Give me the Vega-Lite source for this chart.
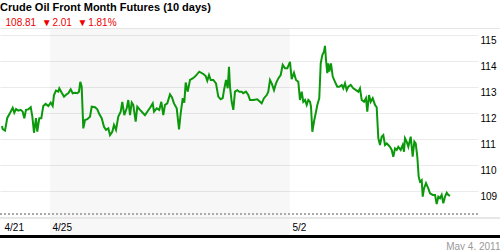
{
  "$schema": "https://vega.github.io/schema/vega-lite/v6.json",
  "width": 478,
  "height": 208,
  "autosize": {"type": "none"},
  "padding": {"left": 0, "top": 28, "right": 22, "bottom": 14},
  "background": "white",
  "config": {
    "font": "Liberation Sans",
    "view": {"stroke": null},
    "axisY": {
      "grid": true,
      "gridColor": "#ebebeb",
      "domain": false,
      "ticks": false,
      "labelPadding": 2,
      "labelFontSize": 10,
      "labelColor": "#000000",
      "labelBaseline": "top",
      "labelOffset": 1,
      "labelAlign": "left",
      "labelOverlap": false,
      "labelFlush": false
    }
  },
  "title": {
    "text": "Crude Oil Front Month Futures (10 days)",
    "subtitle": "\u200b\u00a0\u00a0108.81\u00a0\u00a0▼\u200a2.01\u00a0\u00a0▼\u200a1.81%",
    "anchor": "start",
    "frame": "group",
    "fontSize": 11,
    "fontWeight": "bold",
    "color": "#000000",
    "subtitleColor": "#ee0000",
    "subtitleFontSize": 10,
    "subtitlePadding": 5,
    "offset": 0
  },
  "data": {
    "values": [
      {"t": 0.0, "price": 111.5},
      {"t": 0.015, "price": 111.38},
      {"t": 0.063, "price": 111.32},
      {"t": 0.11, "price": 111.81},
      {"t": 0.167, "price": 112.0},
      {"t": 0.223, "price": 112.2},
      {"t": 0.256, "price": 112.01},
      {"t": 0.292, "price": 112.15},
      {"t": 0.34, "price": 112.09},
      {"t": 0.39, "price": 112.12},
      {"t": 0.431, "price": 112.05},
      {"t": 0.465, "price": 111.8},
      {"t": 0.5, "price": 112.12},
      {"t": 0.548, "price": 112.14},
      {"t": 0.598, "price": 112.22},
      {"t": 0.631, "price": 111.88},
      {"t": 0.667, "price": 111.24},
      {"t": 0.708, "price": 111.8},
      {"t": 0.735, "price": 111.28},
      {"t": 0.777, "price": 111.8},
      {"t": 0.819, "price": 111.8},
      {"t": 0.86, "price": 112.27},
      {"t": 0.91, "price": 112.35},
      {"t": 0.965, "price": 112.27},
      {"t": 1.015, "price": 112.4},
      {"t": 1.056, "price": 112.27},
      {"t": 1.083, "price": 112.69},
      {"t": 1.125, "price": 112.86},
      {"t": 1.173, "price": 112.82},
      {"t": 1.194, "price": 112.95},
      {"t": 1.244, "price": 112.78},
      {"t": 1.292, "price": 112.63},
      {"t": 1.348, "price": 112.72},
      {"t": 1.381, "price": 112.76},
      {"t": 1.431, "price": 112.91},
      {"t": 1.473, "price": 112.76},
      {"t": 1.521, "price": 112.78},
      {"t": 1.569, "price": 112.76},
      {"t": 1.604, "price": 112.82},
      {"t": 1.631, "price": 113.2},
      {"t": 1.66, "price": 113.01},
      {"t": 1.694, "price": 111.41},
      {"t": 1.729, "price": 111.73},
      {"t": 1.777, "price": 111.76},
      {"t": 1.833, "price": 111.86},
      {"t": 1.869, "price": 112.24},
      {"t": 1.938, "price": 112.22},
      {"t": 1.985, "price": 112.14},
      {"t": 2.027, "price": 111.96},
      {"t": 2.077, "price": 111.8},
      {"t": 2.125, "price": 111.47},
      {"t": 2.167, "price": 111.35},
      {"t": 2.215, "price": 111.41},
      {"t": 2.25, "price": 111.15},
      {"t": 2.298, "price": 111.28},
      {"t": 2.333, "price": 111.54},
      {"t": 2.375, "price": 111.35},
      {"t": 2.423, "price": 111.86},
      {"t": 2.473, "price": 112.05},
      {"t": 2.506, "price": 112.43},
      {"t": 2.548, "price": 111.92},
      {"t": 2.598, "price": 112.18},
      {"t": 2.631, "price": 112.5},
      {"t": 2.667, "price": 111.92},
      {"t": 2.702, "price": 112.4},
      {"t": 2.735, "price": 112.31},
      {"t": 2.785, "price": 111.67},
      {"t": 2.819, "price": 112.24},
      {"t": 2.875, "price": 112.12},
      {"t": 2.931, "price": 112.01},
      {"t": 2.979, "price": 111.92},
      {"t": 3.027, "price": 112.05},
      {"t": 3.098, "price": 112.24},
      {"t": 3.14, "price": 112.37},
      {"t": 3.167, "price": 112.05},
      {"t": 3.223, "price": 112.18},
      {"t": 3.277, "price": 112.12},
      {"t": 3.319, "price": 112.43},
      {"t": 3.36, "price": 111.92},
      {"t": 3.396, "price": 112.31},
      {"t": 3.444, "price": 112.37},
      {"t": 3.5, "price": 112.72},
      {"t": 3.542, "price": 112.6},
      {"t": 3.583, "price": 112.37},
      {"t": 3.64, "price": 112.18},
      {"t": 3.688, "price": 111.37},
      {"t": 3.723, "price": 111.99},
      {"t": 3.765, "price": 112.57},
      {"t": 3.798, "price": 112.4},
      {"t": 3.827, "price": 113.17},
      {"t": 3.869, "price": 112.82},
      {"t": 3.917, "price": 113.27},
      {"t": 3.973, "price": 113.33},
      {"t": 4.021, "price": 113.4},
      {"t": 4.11, "price": 113.59},
      {"t": 4.194, "price": 113.5},
      {"t": 4.244, "price": 113.42},
      {"t": 4.277, "price": 113.24},
      {"t": 4.313, "price": 113.46},
      {"t": 4.348, "price": 113.27},
      {"t": 4.402, "price": 113.27},
      {"t": 4.458, "price": 113.14},
      {"t": 4.506, "price": 112.63},
      {"t": 4.556, "price": 112.53},
      {"t": 4.598, "price": 112.57},
      {"t": 4.625, "price": 112.88},
      {"t": 4.667, "price": 113.27},
      {"t": 4.702, "price": 112.95},
      {"t": 4.729, "price": 113.78},
      {"t": 4.75, "price": 113.01},
      {"t": 4.785, "price": 112.43},
      {"t": 4.819, "price": 112.12},
      {"t": 4.854, "price": 112.82},
      {"t": 4.902, "price": 112.88},
      {"t": 4.944, "price": 112.82},
      {"t": 4.994, "price": 112.82},
      {"t": 5.027, "price": 112.76},
      {"t": 5.083, "price": 112.82},
      {"t": 5.131, "price": 112.69},
      {"t": 5.167, "price": 112.5},
      {"t": 5.235, "price": 112.5},
      {"t": 5.319, "price": 112.53},
      {"t": 5.375, "price": 112.43},
      {"t": 5.41, "price": 112.37},
      {"t": 5.458, "price": 112.57},
      {"t": 5.515, "price": 112.69},
      {"t": 5.548, "price": 112.82},
      {"t": 5.583, "price": 113.27},
      {"t": 5.619, "price": 113.14},
      {"t": 5.667, "price": 112.88},
      {"t": 5.708, "price": 113.14},
      {"t": 5.756, "price": 113.33},
      {"t": 5.806, "price": 113.46},
      {"t": 5.848, "price": 113.85},
      {"t": 5.896, "price": 113.72},
      {"t": 5.944, "price": 113.72},
      {"t": 6.0, "price": 113.97},
      {"t": 6.035, "price": 113.3},
      {"t": 6.083, "price": 113.55},
      {"t": 6.125, "price": 113.27},
      {"t": 6.173, "price": 113.2},
      {"t": 6.208, "price": 112.5},
      {"t": 6.244, "price": 112.82},
      {"t": 6.277, "price": 112.43},
      {"t": 6.313, "price": 112.5},
      {"t": 6.348, "price": 112.31},
      {"t": 6.381, "price": 112.5},
      {"t": 6.417, "price": 112.43},
      {"t": 6.438, "price": 112.24},
      {"t": 6.465, "price": 111.28},
      {"t": 6.506, "price": 111.73},
      {"t": 6.542, "price": 112.05},
      {"t": 6.569, "price": 112.31},
      {"t": 6.61, "price": 112.57},
      {"t": 6.64, "price": 113.91},
      {"t": 6.673, "price": 114.23},
      {"t": 6.708, "price": 114.36},
      {"t": 6.729, "price": 114.58},
      {"t": 6.75, "price": 114.04},
      {"t": 6.777, "price": 113.53},
      {"t": 6.798, "price": 113.91},
      {"t": 6.819, "price": 113.59},
      {"t": 6.854, "price": 113.91},
      {"t": 6.89, "price": 113.4},
      {"t": 6.938, "price": 113.2},
      {"t": 6.985, "price": 113.01},
      {"t": 7.027, "price": 113.01},
      {"t": 7.077, "price": 113.08},
      {"t": 7.11, "price": 112.95},
      {"t": 7.146, "price": 113.14},
      {"t": 7.181, "price": 112.88},
      {"t": 7.215, "price": 113.01},
      {"t": 7.265, "price": 113.08},
      {"t": 7.319, "price": 112.95},
      {"t": 7.375, "price": 112.88},
      {"t": 7.423, "price": 112.82},
      {"t": 7.458, "price": 112.95},
      {"t": 7.494, "price": 112.5},
      {"t": 7.542, "price": 112.43},
      {"t": 7.583, "price": 112.57},
      {"t": 7.61, "price": 112.05},
      {"t": 7.646, "price": 112.69},
      {"t": 7.681, "price": 112.43},
      {"t": 7.723, "price": 112.57},
      {"t": 7.771, "price": 112.31},
      {"t": 7.806, "price": 112.22},
      {"t": 7.84, "price": 111.03},
      {"t": 7.875, "price": 110.77},
      {"t": 7.91, "price": 111.09},
      {"t": 7.944, "price": 111.15},
      {"t": 7.979, "price": 110.77},
      {"t": 8.015, "price": 110.83},
      {"t": 8.048, "price": 110.77},
      {"t": 8.083, "price": 110.7},
      {"t": 8.119, "price": 110.58},
      {"t": 8.152, "price": 110.32},
      {"t": 8.188, "price": 110.64},
      {"t": 8.223, "price": 110.58},
      {"t": 8.256, "price": 110.7},
      {"t": 8.306, "price": 110.58},
      {"t": 8.348, "price": 110.77},
      {"t": 8.375, "price": 110.51},
      {"t": 8.396, "price": 111.03},
      {"t": 8.431, "price": 110.9},
      {"t": 8.465, "price": 110.7},
      {"t": 8.515, "price": 111.09},
      {"t": 8.556, "price": 110.32},
      {"t": 8.59, "price": 110.9},
      {"t": 8.619, "price": 110.83},
      {"t": 8.652, "price": 110.32},
      {"t": 8.681, "price": 109.55},
      {"t": 8.708, "price": 109.36},
      {"t": 8.744, "price": 109.42},
      {"t": 8.765, "price": 108.78},
      {"t": 8.792, "price": 109.1},
      {"t": 8.833, "price": 109.3},
      {"t": 8.881, "price": 109.1},
      {"t": 8.917, "price": 108.91},
      {"t": 8.973, "price": 108.85},
      {"t": 9.021, "price": 108.85},
      {"t": 9.056, "price": 108.5},
      {"t": 9.09, "price": 108.78},
      {"t": 9.125, "price": 108.72},
      {"t": 9.16, "price": 108.85},
      {"t": 9.194, "price": 108.53},
      {"t": 9.229, "price": 108.78},
      {"t": 9.265, "price": 108.93},
      {"t": 9.298, "price": 108.85},
      {"t": 9.333, "price": 108.81}
    ]
  },
  "layer": [
    {
      "data": {"values": [{"start": 1, "end": 6}]},
      "mark": {"type": "rect", "fill": "#000000", "fillOpacity": 0.03},
      "encoding": {
        "x": {"field": "start", "type": "quantitative"},
        "x2": {"field": "end"}
      }
    },
    {
      "mark": {"type": "rule", "color": "#e6e6e6", "strokeWidth": 1},
      "encoding": {
        "x": {"datum": -0.0417, "type": "quantitative"},
        "x2": {"datum": 10.375},
        "y": {"datum": 115.25, "type": "quantitative", "axis": {"orient": "right", "values": [109, 110, 111, 112, 113, 114, 115], "title": null}}
      }
    },
    {
      "mark": {"type": "rule", "color": "#e6e6e6", "strokeWidth": 1},
      "encoding": {
        "x": {"datum": -0.0417, "type": "quantitative"},
        "x2": {"datum": 10.375},
        "y": {"datum": 107.962, "type": "quantitative", "axis": {"orient": "right", "values": [109, 110, 111, 112, 113, 114, 115], "title": null}}
      }
    },
    {
      "mark": {"type": "rule", "color": "#aaaaaa", "strokeWidth": 1, "strokeDash": [2, 2]},
      "encoding": {
        "x": {"datum": -0.0417, "type": "quantitative"},
        "x2": {"datum": 9.9167},
        "y": {"datum": 108.115, "type": "quantitative", "axis": {"orient": "right", "values": [109, 110, 111, 112, 113, 114, 115], "title": null}}
      }
    },
    {
      "mark": {"type": "rule", "color": "#000000", "strokeWidth": 2},
      "encoding": {
        "x": {"datum": -0.0417, "type": "quantitative"},
        "x2": {"datum": 10.375},
        "y": {"datum": 107.242, "type": "quantitative", "axis": {"orient": "right", "values": [109, 110, 111, 112, 113, 114, 115], "title": null}}
      }
    },
    {
      "mark": {"type": "line", "color": "#0b990b", "strokeWidth": 2, "interpolate": "linear"},
      "encoding": {
        "x": {
          "field": "t",
          "type": "quantitative",
          "scale": {"domain": [-0.0417, 9.9167], "nice": false, "zero": false},
          "axis": {
            "orient": "bottom",
            "values": [0, 1, 6],
            "labelExpr": "datum.value == 0 ? '4/21' : datum.value == 1 ? '4/25' : '5/2'",
            "labelAlign": "left",
            "labelBaseline": "top",
            "labelOffset": 2,
            "labelPadding": -14,
            "labelFontSize": 10,
            "labelColor": "#000000",
            "labelFlush": false,
            "labelOverlap": false,
            "domain": false,
            "ticks": false,
            "grid": false,
            "title": "May 4, 2011",
            "titleFontSize": 10,
            "titleFontWeight": "normal",
            "titleColor": "#999999",
            "titleAlign": "right",
            "titleBaseline": "top",
            "titleX": 500,
            "titleY": 5
          }
        },
        "y": {
          "field": "price",
          "type": "quantitative",
          "scale": {"domain": [107.2692, 115.2692], "nice": false, "zero": false},
          "axis": {"orient": "right", "values": [109, 110, 111, 112, 113, 114, 115], "title": null}
        }
      }
    }
  ]
}
